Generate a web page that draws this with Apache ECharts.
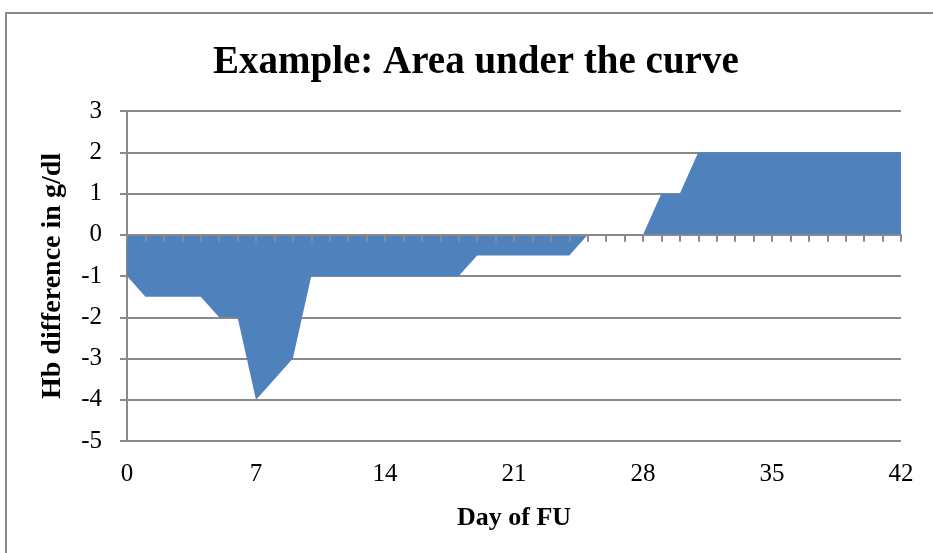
<!DOCTYPE html>
<html>
<head>
<meta charset="utf-8">
<script src="https://cdn.jsdelivr.net/npm/echarts@6/dist/echarts.min.js"></script>
<style>
  html, body { margin: 0; padding: 0; background: #fff; }
  #box { width: 933px; height: 553px; }
</style>
</head>
<body>
<div id="box"></div>
<script>
// days 0..42
let days = [];
for (let d = 0; d <= 42; d++) days.push(String(d));

// Hb difference (g/dl) per day
let hbDiff = [
  -1, -1.5, -1.5, -1.5, -1.5, -2, -2, -4, -3.5, -3,
  -1, -1, -1, -1, -1, -1, -1, -1, -1,
  -0.5, -0.5, -0.5, -0.5, -0.5, -0.5,
  0, 0, 0, 0,
  1, 1,
  2, 2, 2, 2, 2, 2, 2, 2, 2, 2, 2, 2
];

let yMin = -5, yMax = 3, yStep = 1;
let labelEvery = 7;

let fontFam = "'Liberation Serif', serif";
let gray = "#8a8a8a";

let chart = echarts.init(document.getElementById("box"), null, { renderer: "canvas" });
let option = {
  animation: false,
  title: {
    text: "Example: Area under the curve",
    left: 208,
    top: 38,
    textStyle: { fontFamily: fontFam, fontSize: 39, fontWeight: "bold", color: "#000" }
  },
  graphic: [{
    type: "rect",
    shape: { x: 6, y: 13, width: 1000, height: 1000 },
    style: { fill: "none", stroke: gray, lineWidth: 2 },
    silent: true
  }],
  grid: { left: 127, right: 32, top: 111, bottom: 112, containLabel: false },
  xAxis: [{
    // axis line at zero with day ticks
    type: "category",
    data: days,
    boundaryGap: false,
    z: 10,
    axisLine: { onZero: true, lineStyle: { color: gray, width: 2 } },
    axisTick: { show: true, interval: 0, length: 7, inside: false, lineStyle: { color: gray, width: 2 } },
    axisLabel: { show: false },
    splitLine: { show: false }
  }, {
    // labels at bottom
    type: "category",
    data: days,
    boundaryGap: false,
    position: "bottom",
    axisLine: { show: false, onZero: false },
    axisTick: { show: false },
    axisLabel: {
      interval: labelEvery - 1,
      margin: 21,
      fontFamily: fontFam, fontSize: 25, color: "#000"
    },
    name: "Day of FU",
    nameLocation: "middle",
    nameGap: 64,
    nameTextStyle: { fontFamily: fontFam, fontSize: 26, fontWeight: "bold", color: "#000" }
  }],
  yAxis: {
    type: "value",
    min: yMin, max: yMax, interval: yStep,
    axisLine: { show: true, lineStyle: { color: gray, width: 2 } },
    axisTick: { show: true, length: 7, lineStyle: { color: gray, width: 2 } },
    axisLabel: { margin: 25, fontFamily: fontFam, fontSize: 25, color: "#000" },
    splitLine: { show: true, lineStyle: { color: gray, width: 2 } },
    name: "Hb difference in g/dl",
    nameLocation: "middle",
    nameGap: 60,
    nameTextStyle: { fontFamily: fontFam, fontSize: 28, fontWeight: "bold", color: "#000" }
  },
  series: [{
    type: "line",
    xAxisIndex: 0,
    data: hbDiff,
    symbol: "none",
    lineStyle: { width: 0 },
    areaStyle: { color: "#4F81BD", opacity: 1 }
  }]
};
chart.setOption(option);
</script>
</body>
</html>
